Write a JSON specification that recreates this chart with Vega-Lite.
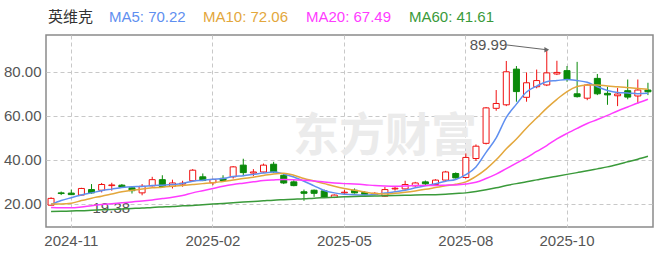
{
"$schema": "https://vega.github.io/schema/vega-lite/v6.json",
"width": 607, "height": 192,
"autosize": {"type": "none"},
"padding": {"left": 46, "top": 35, "right": 7, "bottom": 27},
"background": "white",
"config": {
  "view": {"stroke": "#8a8a8a", "strokeWidth": 1.5},
  "font": "Liberation Sans, Noto Sans CJK SC",
  "axisX": {"ticks": false, "domain": false, "labelPadding": 6, "grid": true, "gridDash": [4,3], "gridColor": "#c8c8c8", "labelFontSize": 15, "labelColor": "#555555", "labelAngle": 0, "bandPosition": 0.5},
  "axisY": {"ticks": false, "domain": false, "labelPadding": 5, "grid": true, "gridDash": [4,3], "gridColor": "#c8c8c8", "labelFontSize": 15, "labelColor": "#555555"}
},
"datasets": {"k": [
{"d":"2024-10-18","o":19.4,"h":23.0,"l":19.38,"c":22.5,"m5":19.7,"m10":20.0,"m20":18.4,"m60":16.5},
{"d":"2024-10-25","o":25.0,"h":25.6,"l":24.0,"c":24.7,"m5":21.5,"m10":20.0,"m20":18.2,"m60":16.6},
{"d":"2024-11-01","o":24.9,"h":26.5,"l":24.0,"c":24.2,"m5":22.8,"m10":20.3,"m20":18.2,"m60":16.8},
{"d":"2024-11-08","o":24.0,"h":27.3,"l":23.8,"c":27.0,"m5":24.0,"m10":21.5,"m20":18.6,"m60":16.9},
{"d":"2024-11-15","o":26.5,"h":29.0,"l":24.6,"c":25.0,"m5":25.0,"m10":22.6,"m20":19.2,"m60":17.1},
{"d":"2024-11-22","o":26.2,"h":29.5,"l":25.2,"c":28.8,"m5":26.0,"m10":23.5,"m20":19.7,"m60":17.3},
{"d":"2024-11-29","o":28.3,"h":29.6,"l":26.0,"c":28.6,"m5":26.7,"m10":24.5,"m20":20.1,"m60":17.5},
{"d":"2024-12-06","o":28.5,"h":29.0,"l":27.3,"c":27.6,"m5":27.4,"m10":25.5,"m20":20.5,"m60":17.7},
{"d":"2024-12-13","o":27.3,"h":27.6,"l":24.7,"c":26.0,"m5":27.8,"m10":26.2,"m20":20.9,"m60":17.9},
{"d":"2024-12-20","o":25.0,"h":29.0,"l":23.9,"c":28.0,"m5":27.9,"m10":26.8,"m20":21.3,"m60":18.1},
{"d":"2024-12-27","o":28.2,"h":32.3,"l":27.9,"c":31.0,"m5":28.3,"m10":27.3,"m20":21.8,"m60":18.4},
{"d":"2025-01-03","o":31.0,"h":33.0,"l":27.5,"c":27.8,"m5":28.5,"m10":27.6,"m20":22.4,"m60":18.6},
{"d":"2025-01-10","o":28.0,"h":31.0,"l":27.0,"c":29.5,"m5":28.8,"m10":28.0,"m20":23.0,"m60":18.8},
{"d":"2025-01-17","o":29.0,"h":30.5,"l":27.8,"c":29.4,"m5":29.3,"m10":28.4,"m20":23.8,"m60":19.1},
{"d":"2025-01-24","o":30.5,"h":35.8,"l":30.0,"c":35.3,"m5":30.3,"m10":28.8,"m20":25.0,"m60":19.3},
{"d":"2025-01-27","o":32.3,"h":33.8,"l":30.3,"c":30.6,"m5":30.7,"m10":29.2,"m20":26.0,"m60":19.6},
{"d":"2025-02-07","o":29.6,"h":31.4,"l":28.5,"c":31.1,"m5":31.2,"m10":29.6,"m20":27.0,"m60":19.9},
{"d":"2025-02-14","o":31.6,"h":33.0,"l":30.2,"c":30.6,"m5":31.5,"m10":30.2,"m20":28.0,"m60":20.2},
{"d":"2025-02-21","o":32.3,"h":37.2,"l":31.5,"c":36.8,"m5":32.4,"m10":30.8,"m20":28.8,"m60":20.5},
{"d":"2025-02-28","o":37.6,"h":40.5,"l":32.6,"c":34.2,"m5":32.8,"m10":31.5,"m20":29.4,"m60":20.8},
{"d":"2025-03-07","o":34.0,"h":35.8,"l":32.6,"c":34.5,"m5":33.4,"m10":32.1,"m20":30.0,"m60":21.1},
{"d":"2025-03-14","o":34.5,"h":38.3,"l":34.0,"c":37.6,"m5":34.0,"m10":32.9,"m20":30.6,"m60":21.4},
{"d":"2025-03-21","o":38.0,"h":39.1,"l":34.0,"c":34.6,"m5":34.5,"m10":33.6,"m20":30.9,"m60":21.7},
{"d":"2025-03-28","o":33.0,"h":34.0,"l":29.0,"c":29.5,"m5":33.6,"m10":33.9,"m20":31.1,"m60":21.9},
{"d":"2025-04-03","o":30.0,"h":30.8,"l":28.0,"c":28.3,"m5":32.2,"m10":33.0,"m20":31.0,"m60":22.1},
{"d":"2025-04-11","o":25.5,"h":26.5,"l":21.4,"c":24.8,"m5":30.3,"m10":31.5,"m20":30.7,"m60":22.3},
{"d":"2025-04-18","o":26.2,"h":26.5,"l":23.2,"c":24.8,"m5":28.2,"m10":30.4,"m20":30.4,"m60":22.6},
{"d":"2025-04-25","o":25.9,"h":26.5,"l":22.7,"c":23.0,"m5":26.1,"m10":29.2,"m20":29.9,"m60":22.8},
{"d":"2025-04-30","o":22.9,"h":24.3,"l":22.6,"c":24.0,"m5":25.0,"m10":28.0,"m20":29.5,"m60":23.0},
{"d":"2025-05-09","o":25.0,"h":26.4,"l":24.0,"c":25.3,"m5":24.4,"m10":27.0,"m20":29.2,"m60":23.2},
{"d":"2025-05-16","o":26.2,"h":27.0,"l":24.7,"c":25.0,"m5":24.1,"m10":26.2,"m20":29.0,"m60":23.4},
{"d":"2025-05-23","o":25.2,"h":25.8,"l":23.9,"c":24.3,"m5":24.0,"m10":25.4,"m20":28.7,"m60":23.5},
{"d":"2025-05-30","o":24.3,"h":25.3,"l":24.0,"c":24.8,"m5":24.3,"m10":24.7,"m20":28.3,"m60":23.6},
{"d":"2025-06-06","o":23.5,"h":27.7,"l":23.3,"c":26.5,"m5":24.9,"m10":24.5,"m20":28.1,"m60":23.7},
{"d":"2025-06-13","o":26.8,"h":27.8,"l":26.0,"c":27.1,"m5":25.5,"m10":24.8,"m20":28.0,"m60":23.8},
{"d":"2025-06-20","o":26.8,"h":30.5,"l":26.5,"c":28.8,"m5":26.2,"m10":25.3,"m20":28.1,"m60":23.9},
{"d":"2025-06-27","o":28.2,"h":30.0,"l":27.8,"c":29.5,"m5":27.3,"m10":25.9,"m20":28.3,"m60":24.0},
{"d":"2025-07-04","o":30.0,"h":30.6,"l":28.5,"c":29.1,"m5":28.2,"m10":26.6,"m20":28.4,"m60":24.1},
{"d":"2025-07-11","o":28.8,"h":31.2,"l":28.5,"c":30.8,"m5":29.1,"m10":27.4,"m20":28.4,"m60":24.2},
{"d":"2025-07-18","o":30.8,"h":35.0,"l":30.5,"c":34.5,"m5":30.3,"m10":28.2,"m20":28.5,"m60":24.4},
{"d":"2025-07-25","o":33.8,"h":34.3,"l":31.5,"c":31.8,"m5":31.1,"m10":28.9,"m20":28.6,"m60":24.7},
{"d":"2025-08-01","o":32.0,"h":42.9,"l":31.5,"c":41.1,"m5":33.3,"m10":30.0,"m20":29.0,"m60":25.0},
{"d":"2025-08-08","o":40.6,"h":47.0,"l":39.5,"c":46.2,"m5":36.8,"m10":32.5,"m20":29.8,"m60":25.6},
{"d":"2025-08-15","o":47.5,"h":64.0,"l":47.0,"c":63.6,"m5":43.4,"m10":35.8,"m20":31.5,"m60":26.4},
{"d":"2025-08-22","o":63.4,"h":71.7,"l":62.3,"c":65.6,"m5":50.0,"m10":40.0,"m20":33.5,"m60":27.3},
{"d":"2025-08-29","o":65.0,"h":84.9,"l":64.4,"c":80.0,"m5":59.3,"m10":45.0,"m20":36.0,"m60":28.3},
{"d":"2025-09-05","o":81.2,"h":82.6,"l":66.4,"c":71.0,"m5":65.3,"m10":49.5,"m20":38.5,"m60":29.2},
{"d":"2025-09-12","o":68.4,"h":79.7,"l":66.4,"c":75.0,"m5":70.8,"m10":54.5,"m20":41.0,"m60":30.0},
{"d":"2025-09-19","o":73.2,"h":81.0,"l":72.5,"c":76.0,"m5":73.5,"m10":59.0,"m20":43.8,"m60":30.9},
{"d":"2025-09-26","o":74.0,"h":89.99,"l":73.5,"c":79.5,"m5":75.5,"m10":63.5,"m20":46.5,"m60":31.8},
{"d":"2025-09-30","o":79.0,"h":85.0,"l":78.5,"c":79.7,"m5":76.0,"m10":67.5,"m20":49.5,"m60":32.6},
{"d":"2025-10-10","o":80.5,"h":82.6,"l":75.5,"c":76.5,"m5":76.5,"m10":71.0,"m20":52.0,"m60":33.4},
{"d":"2025-10-17","o":70.0,"h":84.5,"l":68.3,"c":68.7,"m5":76.0,"m10":73.3,"m20":54.3,"m60":34.2},
{"d":"2025-10-24","o":68.0,"h":74.5,"l":67.1,"c":74.0,"m5":75.2,"m10":74.0,"m20":56.5,"m60":35.0},
{"d":"2025-10-31","o":77.0,"h":79.0,"l":69.4,"c":70.0,"m5":73.2,"m10":74.0,"m20":58.3,"m60":35.9},
{"d":"2025-11-07","o":70.2,"h":73.2,"l":65.0,"c":69.5,"m5":71.5,"m10":73.5,"m20":60.2,"m60":36.8},
{"d":"2025-11-14","o":69.1,"h":72.7,"l":64.4,"c":69.9,"m5":70.6,"m10":73.2,"m20":62.2,"m60":37.9},
{"d":"2025-11-21","o":71.4,"h":76.5,"l":67.5,"c":68.5,"m5":70.4,"m10":72.8,"m20":64.0,"m60":39.1},
{"d":"2025-11-28","o":69.0,"h":76.5,"l":65.6,"c":71.7,"m5":70.0,"m10":72.4,"m20":65.8,"m60":40.3},
{"d":"2025-12-05","o":71.7,"h":75.0,"l":69.4,"c":70.9,"m5":70.22,"m10":72.06,"m20":67.49,"m60":41.61}
]},
"data": {"name": "k"},
"encoding": {
  "x": {"field": "d", "type": "ordinal", "title": null,
        "scale": {"type": "band", "paddingInner": 0, "paddingOuter": 0},
        "axis": {"values": ["2024-11-01","2025-02-07","2025-05-09","2025-08-01","2025-10-10"], "labelExpr": "substring(datum.value, 0, 7)"}}
},
"layer": [
  {
    "data": {"values": [{}]},
    "mark": {"type": "text", "text": "东方财富", "font": "Noto Sans CJK SC", "fontSize": 46, "fontWeight": "bold", "color": "#ebebeb", "align": "center", "baseline": "middle"},
    "encoding": {"x": {"datum": "2025-06-06", "type": "ordinal"}, "y": {"datum": 50.4, "type": "quantitative"}}
  },
  {
    "mark": {"type": "rule", "strokeWidth": 1},
    "encoding": {
      "y": {"field": "l", "type": "quantitative", "title": null,
            "scale": {"domain": [9.5, 96.7], "nice": false, "zero": false},
            "axis": {"values": [20, 40, 60, 80], "format": ".2f"}},
      "y2": {"field": "h"},
      "color": {"condition": {"test": "datum.c >= datum.o", "value": "#f01010"}, "value": "#0a8a0a"}
    }
  },
  {
    "mark": {"type": "bar", "width": 6, "strokeWidth": 1},
    "encoding": {
      "y": {"field": "o", "type": "quantitative", "title": null},
      "y2": {"field": "c"},
      "fill": {"condition": {"test": "datum.c >= datum.o", "value": "#ffffff"}, "value": "#0a8a0a"},
      "stroke": {"condition": {"test": "datum.c >= datum.o", "value": "#f01010"}, "value": "#0a8a0a"}
    }
  },
  {
    "data": {"values": [{}]},
    "mark": {"type": "text", "text": "19.38", "fontSize": 15, "color": "#555555", "align": "left", "baseline": "middle", "dx": 1},
    "encoding": {"x": {"datum": "2024-11-15", "type": "ordinal"}, "y": {"datum": 18.1, "type": "quantitative"}}
  },
  {
    "data": {"values": [{}]},
    "mark": {"type": "text", "text": "89.99", "fontSize": 15, "color": "#555555", "align": "right", "baseline": "middle", "dx": 1},
    "encoding": {"x": {"datum": "2025-08-29", "type": "ordinal"}, "y": {"datum": 92.2, "type": "quantitative"}}
  },
  {
    "data": {"values": [{}]},
    "mark": {"type": "rule", "color": "#666666", "strokeWidth": 1},
    "encoding": {"x": {"datum": "2025-08-29", "type": "ordinal"}, "y": {"datum": 92.2, "type": "quantitative"},
                 "x2": {"datum": "2025-09-26"}, "y2": {"datum": 90.0}}
  },
  {
    "data": {"values": [{}]},
    "mark": {"type": "point", "shape": "triangle-right", "size": 30, "filled": true, "color": "#666666", "opacity": 1, "dx": -3},
    "encoding": {"x": {"datum": "2025-09-26", "type": "ordinal"}, "y": {"datum": 90.0, "type": "quantitative"}}
  },
  {
    "transform": [{"fold": ["m5", "m10", "m20", "m60"], "as": ["ma", "v"]}],
    "mark": {"type": "line", "strokeWidth": 1.5, "interpolate": "monotone"},
    "encoding": {
      "y": {"field": "v", "type": "quantitative", "title": null},
      "color": {"field": "ma", "type": "nominal",
        "scale": {"domain": ["m5", "m10", "m20", "m60"], "range": ["#5f8ff0", "#e3a73c", "#ff3cff", "#3a9a3a"]},
        "legend": {"title": "英维克", "orient": "none", "legendX": 2, "legendY": -26, "direction": "horizontal",
          "titleOrient": "left", "titleAngle": 0, "titleFontSize": 15, "titleColor": "#333333", "titleFontWeight": "normal",
          "titleFont": "Noto Sans CJK SC", "titlePadding": 0, "titleBaseline": "middle",
          "labelFontSize": 15, "labelOffset": 0, "symbolSize": 0, "symbolOpacity": 0, "symbolStrokeWidth": 0, "columnPadding": 2,
          "labelExpr": "datum.value == 'm5' ? 'MA5: 70.22' : datum.value == 'm10' ? 'MA10: 72.06' : datum.value == 'm20' ? 'MA20: 67.49' : 'MA60: 41.61'",
          "encode": {"labels": {"update": {"fill": {"scale": "color", "field": "value"}}}}}
      }
    }
  }
]
}
